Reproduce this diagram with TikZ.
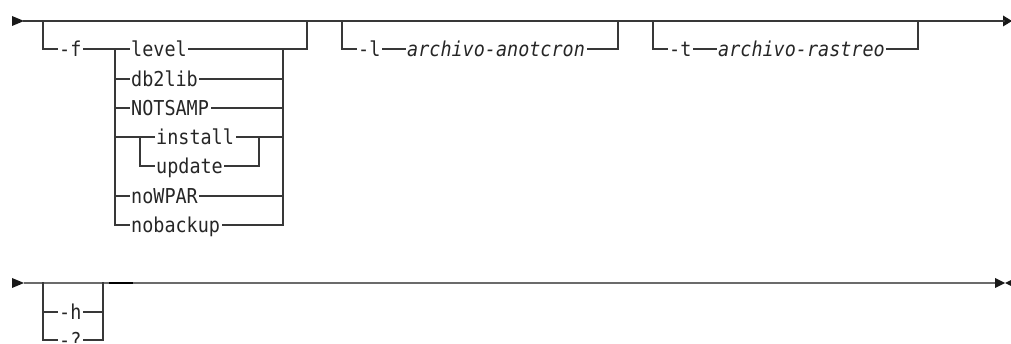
\documentclass[tikz,border=0pt]{standalone}
\usepackage{fontspec}
\setmonofont[FakeStretch=0.9]{DejaVu Sans Mono}
\begin{document}
\begin{tikzpicture}[x=1pt,y=-1pt,
  ln/.style={line width=1.2pt, draw=black!78, line cap=rect},
  ln2/.style={line width=1.2pt, draw=black!58},
  kw/.style={font=\ttfamily\fontsize{20.5}{24}\selectfont, inner xsep=2pt, inner ysep=0pt, anchor=base west, text=black!85},
  var/.style={kw, font=\ttfamily\itshape\fontsize{20.5}{24}\selectfont},
  tri/.style={fill=black!90, draw=none}]
\useasboundingbox (0,0) rectangle (1011,344);

% ---------- row 1 ----------
\coordinate (s1) at (24,21);
\coordinate (e1) at (1004,21);
\fill[tri] (12,16) -- (24,21) -- (12,26) -- cycle;
\fill[tri] (1003,15.5) -- (1012,21) -- (1003,26.5) -- cycle;
\draw[ln] (s1) -- (e1);

% -f group
\node[kw] (f) at (57,56.5) {-f};
\node[kw] (lv) at (129,56.5) {level};
\node[kw] (db) at (129,86.5) {db2lib};
\node[kw] (ns) at (129,115.5) {NOTSAMP};
\node[kw] (in) at (154,144.5) {install};
\node[kw] (up) at (154,173.5) {update};
\node[kw] (nw) at (129,203.5) {noWPAR};
\node[kw] (nb) at (129,232.5) {nobackup};

\coordinate (fa) at (43,21);
\coordinate (fb) at (307,21);
\draw[ln] (fa) -- (43,49) -- (f.west |- 0,49);
\draw[ln] (f.east |- 0,49) -- (lv.west |- 0,49);
\draw[ln] (115,49) -- (115,225);
\draw[ln] (283,49) -- (283,225);
\draw[ln] (lv.east |- 0,49) -- (307,49) -- (fb);
\draw[ln] (115,79) -- (db.west |- 0,79);
\draw[ln] (db.east |- 0,79) -- (283,79);
\draw[ln] (115,108) -- (ns.west |- 0,108);
\draw[ln] (ns.east |- 0,108) -- (283,108);
\draw[ln] (115,137) -- (in.west |- 0,137);
\draw[ln] (140,137) -- (140,166) -- (up.west |- 0,166);
\draw[ln] (in.east |- 0,137) -- (283,137);
\draw[ln] (up.east |- 0,166) -- (259,166) -- (259,137);
\draw[ln] (115,196) -- (nw.west |- 0,196);
\draw[ln] (nw.east |- 0,196) -- (283,196);
\draw[ln] (115,225) -- (nb.west |- 0,225);
\draw[ln] (nb.east |- 0,225) -- (283,225);

% -l group
\node[kw] (l) at (356,56.5) {-l};
\node[var] (la) at (405,56.5) {archivo-anotcron};
\coordinate (la1) at (342,21);
\coordinate (la2) at (618,21);
\draw[ln] (la1) -- (342,49) -- (l.west |- 0,49);
\draw[ln] (l.east |- 0,49) -- (la.west |- 0,49);
\draw[ln] (la.east |- 0,49) -- (618,49) -- (la2);

% -t group
\node[kw] (t) at (667,56.5) {-t};
\node[var] (ta) at (716,56.5) {archivo-rastreo};
\coordinate (ta1) at (653,21);
\coordinate (ta2) at (918,21);
\draw[ln] (ta1) -- (653,49) -- (t.west |- 0,49);
\draw[ln] (t.east |- 0,49) -- (ta.west |- 0,49);
\draw[ln] (ta.east |- 0,49) -- (918,49) -- (ta2);

% ---------- row 2 ----------
\coordinate (s2) at (24,283);
\coordinate (e2) at (995,283);
\fill[tri] (12,278) -- (24,283) -- (12,288) -- cycle;
\fill[tri] (995,278) -- (1005,283) -- (995,288) -- cycle;
\fill[tri] (1011,280) -- (1005,283) -- (1011,286) -- cycle;
\draw[ln2] (s2) -- (e2);

\node[kw] (h) at (57,319.5) {-h};
\node[kw] (q) at (57,347.5) {-?};
\coordinate (ha) at (43,283);
\coordinate (hb) at (103,283);
\draw[ln] (ha) -- (43,340) -- (q.west |- 0,340);
\draw[ln] (q.east |- 0,340) -- (103,340) -- (hb);
\draw[ln] (43,312) -- (h.west |- 0,312);
\draw[ln] (h.east |- 0,312) -- (103,312);
\draw[line width=1.4pt, draw=black] (109,283) -- (133,283);
\end{tikzpicture}
\end{document}
